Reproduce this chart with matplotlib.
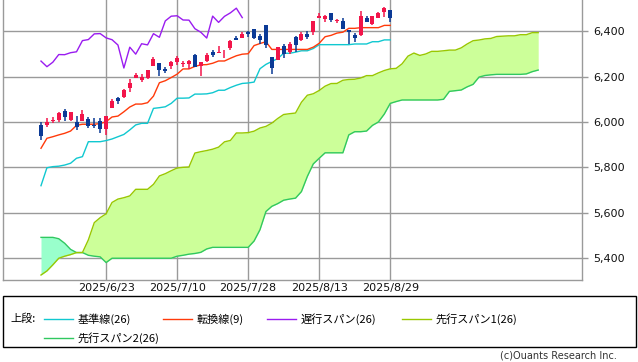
import matplotlib
matplotlib.use("Agg")
import matplotlib.pyplot as plt
from matplotlib.lines import Line2D
from matplotlib.patches import Rectangle
import numpy as np

plt.rcParams['font.family'] = ['DejaVu Sans', 'Noto Sans CJK JP']

# ---------------- data ----------------
dates = ["6/5", "6/6", "6/9", "6/10", "6/11", "6/12", "6/13", "6/16", "6/17", "6/18",
         "6/20", "6/23", "6/24", "6/25", "6/26", "6/27", "6/30", "7/1", "7/2", "7/3",
         "7/7", "7/8", "7/9", "7/10", "7/11", "7/14", "7/15", "7/16", "7/17", "7/18",
         "7/21", "7/22", "7/23", "7/24", "7/25", "7/28", "7/29", "7/30", "7/31", "8/1",
         "8/4", "8/5", "8/6", "8/7", "8/8", "8/11", "8/12", "8/13", "8/14", "8/15",
         "8/18", "8/19", "8/20", "8/21", "8/22", "8/25", "8/26", "8/27", "8/28", "8/29"]

opens = [5985.7, 5987.1, 6004.6, 6009.9, 6049.4, 6009.9, 6000.6, 6004.0, 6012.1, 5987.9,
         6004.0, 5969.7, 6061.2, 6104.2, 6112.1, 6150.7, 6193.4, 6187.3, 6193.0, 6246.3,
         6259.0, 6235.0, 6245.6, 6263.3, 6255.2, 6255.7, 6295.3, 6248.7, 6269.7, 6307.5,
         6304.7, 6306.6, 6326.9, 6368.6, 6370.0, 6397.7, 6409.2, 6377.1, 6427.0, 6287.3,
         6271.7, 6336.0, 6309.3, 6376.9, 6359.4, 6389.7, 6395.2, 6457.7, 6453.8, 6478.9,
         6445.9, 6445.0, 6407.3, 6383.7, 6384.9, 6456.5, 6433.8, 6460.0, 6485.9, 6494.1]
highs = [5999.7, 6016.9, 6021.3, 6043.0, 6059.4, 6045.4, 6026.2, 6050.8, 6023.3, 6018.3,
         6018.2, 6028.0, 6101.8, 6108.5, 6146.5, 6187.7, 6215.1, 6210.8, 6227.6, 6284.7,
         6262.3, 6242.7, 6269.0, 6290.2, 6269.4, 6272.4, 6302.0, 6266.4, 6304.4, 6315.6,
         6336.1, 6316.1, 6360.6, 6381.3, 6395.8, 6401.1, 6409.3, 6389.0, 6427.0, 6288.3,
         6330.0, 6343.6, 6352.8, 6379.0, 6395.2, 6403.4, 6446.2, 6480.3, 6473.8, 6481.3,
         6455.3, 6458.3, 6407.3, 6392.3, 6488.5, 6466.9, 6468.0, 6487.0, 6508.2, 6494.1]
lows = [5921.2, 5978.6, 5994.2, 6000.3, 6002.3, 6003.9, 5963.2, 6004.0, 5974.8, 5971.9,
        5952.6, 5943.2, 6061.2, 6080.0, 6107.3, 6132.4, 6193.4, 6177.9, 6188.3, 6246.3,
        6201.0, 6217.2, 6231.8, 6251.8, 6242.5, 6235.2, 6241.7, 6201.6, 6265.0, 6286.8,
        6303.8, 6281.7, 6317.5, 6360.6, 6368.5, 6375.9, 6365.5, 6346.1, 6327.0, 6212.7,
        6271.7, 6282.4, 6301.9, 6310.0, 6358.6, 6364.2, 6385.8, 6457.7, 6441.1, 6441.1,
        6437.4, 6408.3, 6343.9, 6354.3, 6379.2, 6438.9, 6429.0, 6457.5, 6464.6, 6443.0]
closes = [5939.3, 6000.4, 6005.9, 6038.8, 6022.2, 6045.3, 5977.0, 6033.1, 5982.7, 5980.9,
          5967.8, 6025.2, 6092.2, 6092.2, 6141.0, 6173.1, 6205.0, 6198.0, 6227.4, 6279.4,
          6230.0, 6225.5, 6263.3, 6280.5, 6259.8, 6268.6, 6243.8, 6263.7, 6297.4, 6296.8,
          6305.6, 6309.6, 6358.9, 6363.4, 6388.6, 6389.8, 6370.9, 6362.9, 6339.4, 6238.0,
          6329.9, 6299.2, 6345.1, 6340.0, 6389.5, 6373.5, 6445.8, 6466.6, 6468.5, 6449.8,
          6449.2, 6411.4, 6395.8, 6370.2, 6466.9, 6439.3, 6465.9, 6481.4, 6501.9, 6460.3]

tenkan = [5884, 5928, 5935, 5943, 5950, 5960, 5985, 5990, 5990, 5990,
          5993, 6001, 6022, 6026, 6045, 6066, 6079, 6079, 6085, 6114,
          6173, 6182, 6196, 6211, 6234, 6234, 6245, 6252, 6253, 6259,
          6269, 6269, 6281, 6292, 6299, 6301, 6337, 6346, 6354, 6320,
          6320, 6320, 6320, 6320, 6320, 6320, 6330, 6347, 6376, 6382,
          6392, 6396, 6413, 6413, 6416, 6416, 6416, 6416, 6426, 6426]

kijun = [5719, 5798, 5803, 5805, 5810, 5818, 5840, 5847, 5913, 5913,
         5913, 5918, 5925, 5935, 5945, 5965, 5987, 5994, 5994, 6060,
         6063, 6067, 6082, 6105, 6105, 6106, 6123, 6123, 6124, 6129,
         6140, 6140, 6152, 6162, 6170, 6172, 6176, 6235, 6254, 6267,
         6280, 6303, 6303, 6308, 6314, 6314, 6324, 6341, 6341, 6341,
         6341, 6341, 6341, 6344, 6344, 6344, 6354, 6354, 6362, 6362]

chikou = [6268.6, 6243.8, 6263.7, 6297.4, 6296.8, 6305.6, 6309.6, 6358.9, 6363.4, 6388.6,
          6389.8, 6370.9, 6362.9, 6339.4, 6238.0, 6329.9, 6299.2, 6345.1, 6340.0, 6389.5,
          6373.5, 6445.8, 6466.6, 6468.5, 6449.8, 6449.2, 6411.4, 6395.8, 6370.2, 6466.9,
          6439.3, 6465.9, 6481.4, 6501.9, 6460.3]

span1 = [5325, 5343, 5370, 5399, 5408, 5415, 5424, 5424, 5480, 5556,
         5578, 5595, 5645, 5660, 5666, 5674, 5703, 5703, 5703, 5725,
         5762, 5772, 5785, 5797, 5800, 5801.5, 5863, 5869, 5874, 5880,
         5889, 5912.5, 5918.5, 5951.5, 5951.5, 5953, 5959.5, 5973.5, 5980.5, 5995,
         6015.5, 6033, 6036.5, 6039.5, 6087, 6118, 6124.5, 6139, 6158, 6169.5,
         6170, 6184, 6187.5, 6188.5, 6194, 6204.5, 6204.5, 6216.5, 6227, 6234.5,
         6236.5, 6256.5, 6290.5, 6304, 6293.5, 6300, 6311.5, 6311.5, 6314, 6317,
         6317, 6327, 6344, 6358.5, 6361.5, 6366.5, 6368.5, 6377, 6378.5, 6380,
         6380, 6385, 6385, 6394, 6394]

span2 = [5491, 5491, 5491, 5485, 5465, 5438, 5424, 5424, 5412, 5408,
         5405, 5380, 5399, 5399, 5399, 5399, 5399, 5399, 5399, 5399,
         5399, 5399, 5399, 5408, 5412, 5417, 5420, 5425, 5440, 5447,
         5447, 5447, 5447, 5447, 5447, 5447, 5475, 5525, 5605, 5628,
         5640, 5655, 5660, 5664, 5693, 5760, 5815, 5840, 5864, 5864,
         5864, 5864, 5943, 5957, 5957, 5960, 5985, 6000, 6035, 6082,
         6090, 6097, 6097, 6097, 6097, 6097, 6097, 6097, 6100, 6135,
         6138, 6141, 6155, 6166, 6198, 6205, 6208, 6210, 6210, 6210,
         6210, 6210, 6212, 6222, 6229]

xtick_labels = ["2025/6/23", "2025/7/10", "2025/7/28", "2025/8/13", "2025/8/29"]
ytick_values = [5400, 5600, 5800, 6000, 6200, 6400]

legend_title = "上段:"
legend_labels = ["基準線(26)", "転換線(9)", "遅行スパン(26)", "先行スパン1(26)", "先行スパン2(26)"]
copyright_text = "(c)Ouants Research Inc."

# ---------------- style ----------------
C_UP = "#f2154a"
C_DN = "#0b3a96"
C_TENKAN = "#ff3a0a"
C_KIJUN = "#10c8d0"
C_CHIKOU = "#9a1cf0"
C_SPAN1 = "#99c800"
C_SPAN2 = "#30c860"
C_FILL = "#ccff99"
C_FILL2 = "#99ffcc"
C_GRID = "#9a9a9a"

W, H = 638, 362
fig = plt.figure(figsize=(W / 100, H / 100), dpi=100)
ax = fig.add_axes([3 / W, 1 - 280 / H, 579 / W, 280 / H])

n = len(closes)
xi = np.arange(n)
xs = np.arange(len(span1))
xc = np.arange(len(chikou))

o = np.array(opens); c = np.array(closes)
h = np.array(highs); l = np.array(lows)
s1 = np.array(span1); s2 = np.array(span2)

# cloud
ax.fill_between(xs, s1, s2, where=s1 >= s2, interpolate=True, color=C_FILL, lw=0, zorder=1)
ax.fill_between(xs, s1, s2, where=s1 < s2, interpolate=True, color=C_FILL2, lw=0, zorder=1)
ax.plot(xs, s2, color=C_SPAN2, lw=1.0, zorder=2)
ax.plot(xs, s1, color=C_SPAN1, lw=1.0, zorder=2)

# lines
ax.plot(xi, kijun, color=C_KIJUN, lw=1.0, zorder=3)
ax.plot(xi, tenkan, color=C_TENKAN, lw=1.0, zorder=3)
ax.plot(xc, chikou, color=C_CHIKOU, lw=1.0, zorder=3)

# candles
up = c >= o
colors = np.where(up, C_UP, C_DN)
ax.vlines(xi, l, h, colors=colors, lw=1.1, zorder=4)
body_bottom = np.minimum(o, c)
body_h = np.maximum(np.abs(c - o), 2.0)
ax.bar(xi, body_h, bottom=body_bottom, width=0.68, color=colors, lw=0, zorder=5)

# axes
ax.set_xlim(-6.42, 91.4)
ax.set_ylim(5303, 6538)

tick_idx = [dates.index(lbl.split("2025/")[1]) for lbl in xtick_labels]
ax.set_xticks(tick_idx)
ax.set_xticklabels(xtick_labels, fontsize=8, color="#111111")
ax.tick_params(axis="x", length=0, pad=2)

ax.yaxis.tick_right()
ax.set_yticks(ytick_values)
ax.set_yticklabels([f"{v:,}" for v in ytick_values], fontsize=8, color="#111111")
ax.tick_params(axis="y", length=4, width=1, color=C_GRID, pad=4)

ax.grid(True, color=C_GRID, lw=1.0, zorder=0)
ax.set_axisbelow(True)
for side in ["left", "bottom", "right"]:
    ax.spines[side].set_color(C_GRID)
    ax.spines[side].set_linewidth(1.0)
ax.spines["top"].set_visible(False)

# ---------------- legend ----------------
def fx(px):
    return px / W

def fy(py):
    return 1 - py / H

fig.add_artist(Rectangle((fx(3), fy(347)), fx(633) - fx(0), fy(296) - fy(347),
                         transform=fig.transFigure, fill=False, edgecolor="black", lw=1.0))

jp = ['Noto Sans CJK JP', 'DejaVu Sans']
fig.text(fx(10), fy(319), legend_title, fontsize=8, family=jp, va="center", ha="left")

legend_colors = [C_KIJUN, C_TENKAN, C_CHIKOU, C_SPAN1, C_SPAN2]
legend_pos = [(44, 319), (163, 319), (267, 319), (402, 319), (44, 338)]
for lbl, col, (px, py) in zip(legend_labels, legend_colors, legend_pos):
    fig.add_artist(Line2D([fx(px), fx(px + 29)], [fy(py), fy(py)], transform=fig.transFigure,
                          color=col, lw=1.0))
    fig.text(fx(px + 34), fy(py), lbl, fontsize=8, family=jp, va="center", ha="left")

fig.text(fx(617), fy(356), copyright_text, fontsize=7, color="#333333", va="center", ha="right")

fig.savefig("out.png", dpi=100)
